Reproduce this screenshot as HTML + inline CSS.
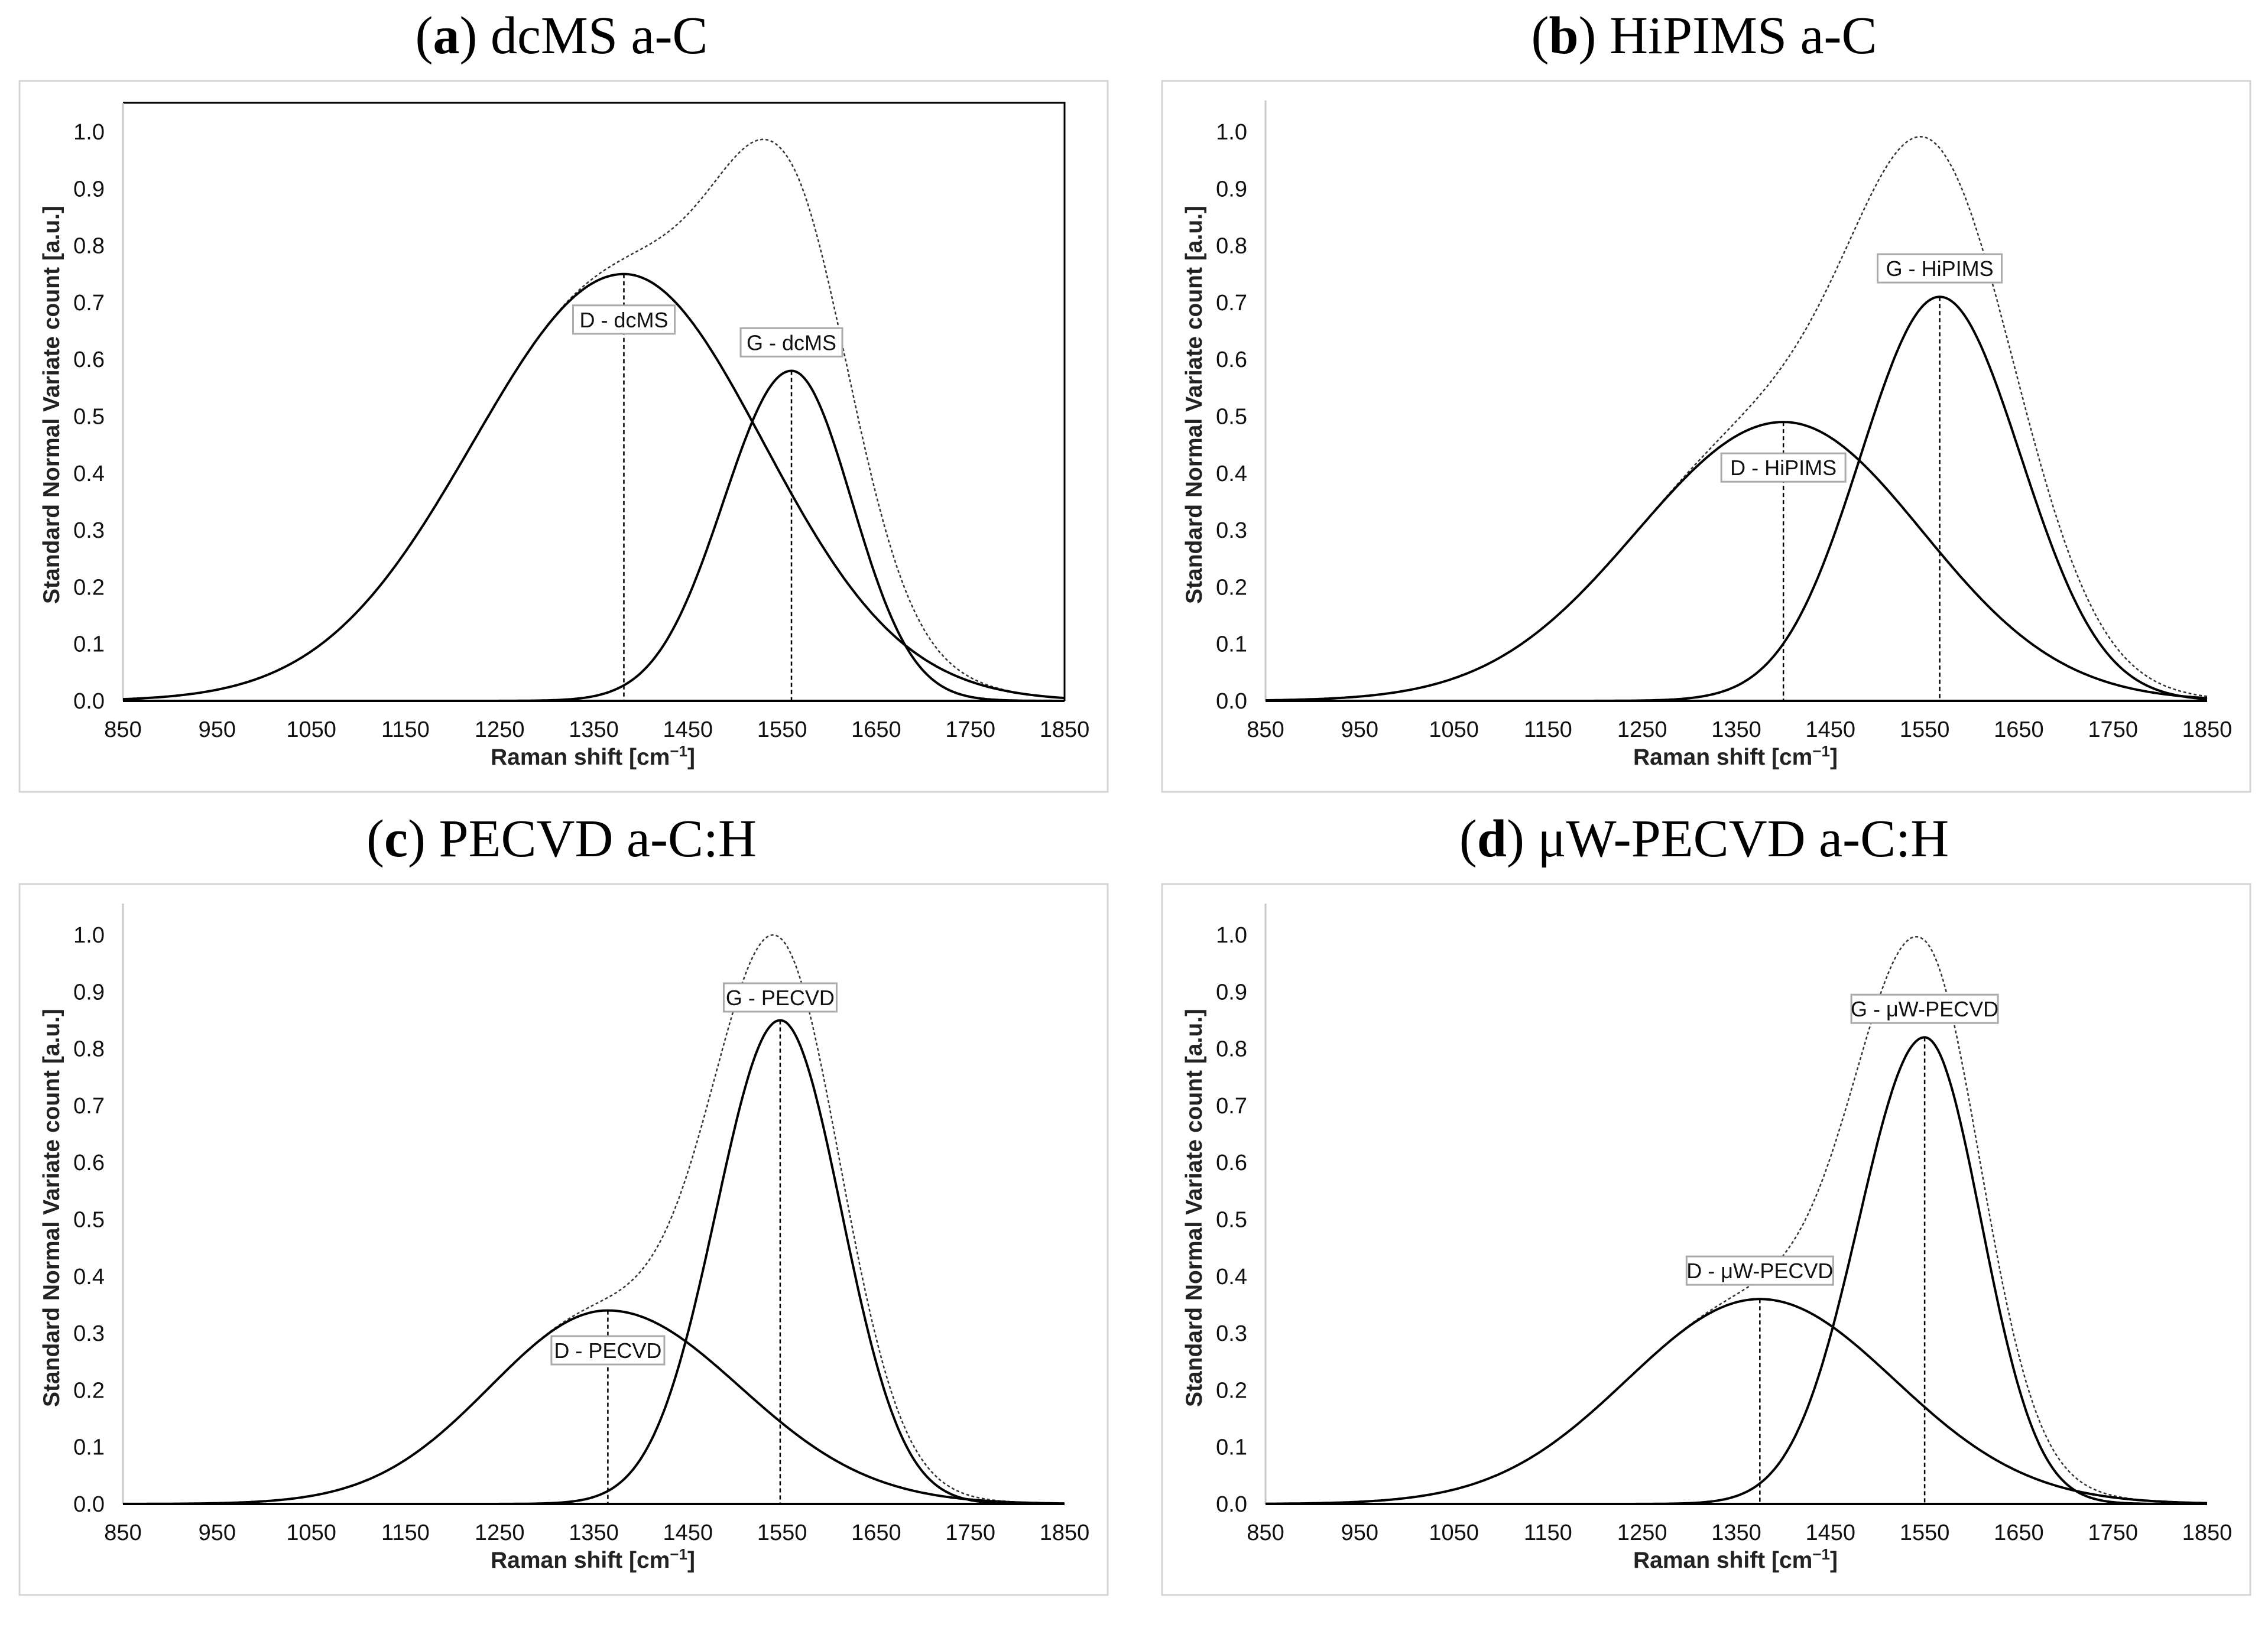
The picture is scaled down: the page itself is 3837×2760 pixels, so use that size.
<!DOCTYPE html>
<html><head><meta charset="utf-8"><style>
html,body{margin:0;padding:0;background:#fff}
svg{display:block}
.tick{font-family:"Liberation Sans",sans-serif;font-size:38px;fill:#111}
.axt{font-family:"Liberation Sans",sans-serif;font-size:39px;font-weight:bold;fill:#222}
.ttl{font-family:"Liberation Serif",serif;font-size:90px;fill:#000}
.lbl{font-family:"Liberation Sans",sans-serif;font-size:36px;fill:#111}
</style></head><body>
<svg id="chart" width="3837" height="2760" viewBox="0 0 3837 2760" xmlns="http://www.w3.org/2000/svg"></svg>
<script>
// Data: fitted peak parameters per panel (center cm-1, amplitude, sigma left/right)
const panelTitles = ["dcMS a-C", "HiPIMS a-C", "PECVD a-C:H", "μW-PECVD a-C:H"];
const panelLetters = ["a", "b", "c", "d"];
const dCenters = [1382, 1400, 1365, 1375];
const dAmps = [0.75, 0.49, 0.34, 0.36];
const dSigmaL = [160, 156, 125, 141];
const dSigmaR = [148, 148, 140, 143];
const gCenters = [1560, 1566, 1548, 1550];
const gAmps = [0.58, 0.71, 0.85, 0.82];
const gSigmaL = [72, 84, 68, 70];
const gSigmaR = [64, 86, 65, 60];
const dLabels = ["D - dcMS", "D - HiPIMS", "D - PECVD", "D - μW-PECVD"];
const gLabels = ["G - dcMS", "G - HiPIMS", "G - PECVD", "G - μW-PECVD"];
const dLabelY = [0.67, 0.41, 0.27, 0.41];
const gLabelY = [0.63, 0.76, 0.89, 0.87];
const xTicks = [850, 950, 1050, 1150, 1250, 1350, 1450, 1550, 1650, 1750, 1850];
const yTicks = [0.0, 0.1, 0.2, 0.3, 0.4, 0.5, 0.6, 0.7, 0.8, 0.9, 1.0];

const NS = "http://www.w3.org/2000/svg";
const svg = document.getElementById("chart");
function mk(tag, attrs, parent) {
  const e = document.createElementNS(NS, tag);
  for (const k in attrs) e.setAttribute(k, attrs[k]);
  (parent || svg).appendChild(e);
  return e;
}
const offX = [0, 1933, 0, 1933];
const offY = [0, 0, 1359, 1359];

function gauss(x, c, a, sl, sr) {
  const s = x < c ? sl : sr;
  return a * Math.exp(-((x - c) * (x - c)) / (2 * s * s));
}

for (let p = 0; p < 4; p++) {
  const ox = offX[p], oy = offY[p];
  const g = mk("g", {});
  
  
  const X0 = 208 + ox, X1 = 1801 + ox, Y0 = 1186 + oy, Y1 = 223 + oy;
  const xs = v => X0 + (v - 850) / 1000 * (X1 - X0);
  const ys = v => Y0 - v * (Y0 - Y1);

  const frame = mk("rect", {x: 33 + ox, y: 137 + oy, width: 1841, height: 1203, fill: "none", stroke: "#d4d4d4", "stroke-width": 3}, g);
  
  

  const t = mk("text", {x: 950 + ox, y: 90 + oy, "text-anchor": "middle", class: "ttl"}, g);
  
  
  t.innerHTML = '(<tspan font-weight="bold">' + panelLetters[p] + '</tspan>) ' + panelTitles[p];

  if (p === 0) {
    const bf = mk("polyline", {points: `${X0},${174+oy} ${X1},${174+oy} ${X1},${Y0}`, fill: "none", stroke: "#000", "stroke-width": 3}, g);
    
    
  }
  const ya = mk("line", {x1: X0, y1: Y0, x2: X0, y2: (p === 0 ? 174 : 170) + oy, stroke: "#c8c8c8", "stroke-width": 3}, g);
  
  

  yTicks.forEach(v => {
    const e = mk("text", {x: 177 + ox, y: ys(v) + 13, "text-anchor": "end", class: "tick"}, g);
    
    
    e.textContent = v.toFixed(1);
  });
  xTicks.forEach(v => {
    const e = mk("text", {x: xs(v), y: 1247 + oy, "text-anchor": "middle", class: "tick"}, g);
    
    
    e.textContent = v;
  });
  const xt = mk("text", {x: 1003 + ox, y: 1294 + oy, "text-anchor": "middle", class: "axt"}, g);
  
  
  xt.innerHTML = 'Raman shift [cm<tspan dy="-14" font-size="26">−1</tspan><tspan dy="14">]</tspan>';
  const yt = mk("text", {x: 0, y: 0, "text-anchor": "middle", class: "axt", transform: `translate(${100+ox},${685+oy}) rotate(-90)`}, g);
  
  
  yt.textContent = "Standard Normal Variate count [a.u.]";

  let dPts = [], gPts = [], sPts = [];
  for (let x = 850; x <= 1850; x += 2) {
    const d = gauss(x, dCenters[p], dAmps[p], dSigmaL[p], dSigmaR[p]);
    const gg = gauss(x, gCenters[p], gAmps[p], gSigmaL[p], gSigmaR[p]);
    dPts.push(xs(x).toFixed(1) + "," + ys(d).toFixed(1));
    gPts.push(xs(x).toFixed(1) + "," + ys(gg).toFixed(1));
    sPts.push(xs(x).toFixed(1) + "," + ys(d + gg).toFixed(1));
  }
  const sl = mk("polyline", {points: sPts.join(" "), fill: "none", stroke: "#333", "stroke-width": 2.5, "stroke-dasharray": "5,4"}, g);
  
  
  const dl = mk("polyline", {points: dPts.join(" "), fill: "none", stroke: "#000", "stroke-width": 4}, g);
  
  
  const gl = mk("polyline", {points: gPts.join(" "), fill: "none", stroke: "#000", "stroke-width": 4}, g);
  
  

  const xa = mk("line", {x1: X0, y1: Y0, x2: X1, y2: Y0, stroke: "#000", "stroke-width": 4}, g);
  
  

  const dv = mk("line", {x1: xs(dCenters[p]), y1: ys(dAmps[p]), x2: xs(dCenters[p]), y2: Y0, stroke: "#000", "stroke-width": 2.5, "stroke-dasharray": "7,5"}, g);
  
  
  const gv = mk("line", {x1: xs(gCenters[p]), y1: ys(gAmps[p]), x2: xs(gCenters[p]), y2: Y0, stroke: "#000", "stroke-width": 2.5, "stroke-dasharray": "7,5"}, g);
  
  

  [[dLabels[p], dCenters[p], dLabelY[p], 'd-peak-label'], [gLabels[p], gCenters[p], gLabelY[p], 'g-peak-label']].forEach(L => {
    const cx = xs(L[1]), cy = ys(L[2]);
    const w = L[0].length * 19 + 20;
    const r = mk("rect", {x: cx - w / 2, y: cy - 24, width: w, height: 48, fill: "#fff", stroke: "#aaa", "stroke-width": 3}, g);
    
    
    const tx = mk("text", {x: cx, y: cy + 13, "text-anchor": "middle", class: "lbl"}, g);
    
    
    tx.textContent = L[0];
  });
}
</script>
</body></html>
